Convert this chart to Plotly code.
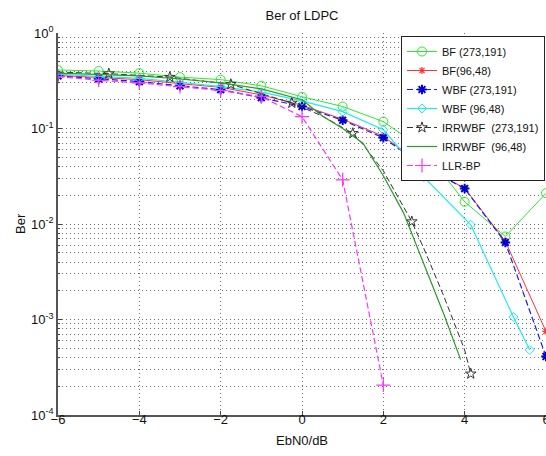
import plotly.graph_objects as go

# ---------------- data ----------------
ebn0 = [-6, -5, -4, -3, -2, -1, 0, 1, 2, 3, 4, 5, 6]
bf_273 = [0.41, 0.40, 0.38, 0.345, 0.325, 0.28, 0.215, 0.17, 0.118, 0.06, 0.0171, 0.0074, 0.021]
bf_96 = [0.36, 0.345, 0.325, 0.295, 0.27, 0.225, 0.175, 0.125, 0.083, 0.04, 0.0237, 0.0066, 0.00075]
wbf_273 = [0.355, 0.33, 0.31, 0.28, 0.255, 0.21, 0.17, 0.122, 0.08, 0.04, 0.0235, 0.0064, 0.00041]

wbf96_x = [-6, -5, -4, -3, -2, -1, 0, 1, 2, 3, 4.15, 5.2, 5.6]
wbf_96 = [0.37, 0.35, 0.335, 0.305, 0.275, 0.24, 0.195, 0.15, 0.097, 0.031, 0.0098, 0.00106, 0.00048]

irr273_x = [-6, -4.75, -3.25, -1.75, -0.25, 0.5, 1.25, 1.5, 2.0, 2.7, 3.0, 3.5, 4.0, 4.15]
irr_273 = [0.39, 0.375, 0.345, 0.29, 0.185, 0.135, 0.089, 0.068, 0.036, 0.0106, 0.0055, 0.0017, 0.00048, 0.00027]
irr273_mark_x = [-4.75, -3.25, -1.75, -0.25, 1.25, 2.7, 4.15]
irr273_mark_y = [0.375, 0.345, 0.29, 0.185, 0.089, 0.0106, 0.00027]

irr96_x = [-6, -5, -4, -3, -2, -1, 0, 0.5, 1, 1.5, 2, 2.5, 3, 3.5, 3.9]
irr_96 = [0.38, 0.37, 0.355, 0.33, 0.30, 0.26, 0.20, 0.135, 0.1, 0.07, 0.032, 0.013, 0.0038, 0.0011, 0.00038]

llr_x = [-6, -5, -4, -3, -2, -1, 0, 1, 2]
llr_bp = [0.35, 0.32, 0.30, 0.275, 0.25, 0.215, 0.133, 0.029, 0.000206]

x_ticks = [-6, -4, -2, 0, 2, 4, 6]
y_ticks = [1e-4, 1e-3, 1e-2, 1e-1, 1]
y_tick_labels = ["10<sup>-4</sup>", "10<sup>-3</sup>", "10<sup>-2</sup>", "10<sup>-1</sup>", "10<sup>0</sup>"]
y_minor = [m * 10 ** e for e in range(-4, 0) for m in range(2, 10)]

FONT = "Liberation Sans, Arial, sans-serif"
TXT = "#111111"

fig = go.Figure()

fig.add_trace(go.Scatter(
    x=ebn0, y=bf_273, name="BF (273,191)", mode="lines+markers",
    line=dict(color="#2ee82e", width=1),
    marker=dict(symbol="circle-open", size=9, color="#2ee82e", line=dict(width=1, color="#2ee82e"))))

fig.add_trace(go.Scatter(
    x=ebn0, y=bf_96, name="BF(96,48)", mode="lines+markers",
    line=dict(color="#ff3030", width=1),
    marker=dict(symbol="asterisk-open", size=6, color="#ff3030", line=dict(width=1.2, color="#ff3030"))))

fig.add_trace(go.Scatter(
    x=ebn0, y=wbf_273, name="WBF (273,191)", mode="lines+markers",
    line=dict(color="#1a1aff", width=1.2, dash="6px,3px"),
    marker=dict(symbol="asterisk-open", size=8, color="#0000cc", line=dict(width=2, color="#0000cc"))))

fig.add_trace(go.Scatter(
    x=wbf96_x, y=wbf_96, name="WBF (96,48)", mode="lines+markers",
    line=dict(color="#22e8f0", width=1.2),
    marker=dict(symbol="diamond-open", size=7, color="#22e8f0", line=dict(width=1, color="#22e8f0"))))

# IRRWBF (273,191): line through all read points, markers only where drawn
fig.add_trace(go.Scatter(
    x=irr273_x, y=irr_273, mode="lines", showlegend=False, legendgroup="irr273",
    line=dict(color="#333333", width=1, dash="6px,3px"), hoverinfo="skip"))
fig.add_trace(go.Scatter(
    x=irr273_mark_x, y=irr273_mark_y, mode="markers", showlegend=False, legendgroup="irr273",
    marker=dict(symbol="star-open", size=8, color="#333333", line=dict(width=1, color="#333333"))))
fig.add_trace(go.Scatter(
    x=[None], y=[None], name="IRRWBF\u00a0 (273,191)", mode="lines+markers", legendgroup="irr273",
    line=dict(color="#333333", width=1.2, dash="6px,3px"),
    marker=dict(symbol="star-open", size=8, color="#333333", line=dict(width=1, color="#333333"))))

fig.add_trace(go.Scatter(
    x=irr96_x, y=irr_96, name="IRRWBF\u00a0 (96,48)", mode="lines",
    line=dict(color="#2a9a2a", width=1.2)))

fig.add_trace(go.Scatter(
    x=llr_x, y=llr_bp, name="LLR-BP", mode="lines+markers",
    line=dict(color="#ff33ff", width=1.2, dash="6px,3px"),
    marker=dict(symbol="cross-thin-open", size=10, color="#ff33ff", line=dict(width=1.2, color="#ff33ff"))))

grid = dict(gridcolor="#707070", gridwidth=1, griddash="1px,3px")

W, H = 546, 456
ML, MT = 58, 33
PW, PH = 488, 382

fig.update_layout(
    width=W, height=H,
    margin=dict(l=ML, r=W - ML - PW, t=MT, b=H - MT - PH, autoexpand=False),
    paper_bgcolor="white", plot_bgcolor="white",
    font=dict(family=FONT, size=12, color=TXT),
    title=dict(text="Ber of LDPC", x=302 / W, xanchor="center", y=1 - 15.5 / H, yanchor="middle",
               font=dict(family=FONT, size=13, color=TXT), automargin=False),
    showlegend=True,
    legend=dict(x=(401 - ML) / PW, y=(MT + PH - 36) / PH, xanchor="left", yanchor="top",
                bgcolor="white", bordercolor="#222", borderwidth=1,
                font=dict(family=FONT, size=11, color=TXT), tracegroupgap=0),
    xaxis=dict(range=[-6, 6], tickvals=x_ticks, ticks="inside", ticklen=4, tickcolor="#444",
               showline=True, linecolor="#555", linewidth=1.5, mirror=False, zeroline=False,
               showgrid=True, **grid, automargin=False, ticklabelstandoff=-8,
               ticklabeloverflow="allow",
               tickfont=dict(family=FONT, size=13, color=TXT)),
    yaxis=dict(type="log", range=[-4, 0], tickvals=y_ticks, ticktext=y_tick_labels,
               ticks="inside", ticklen=4, tickcolor="#444",
               showline=True, linecolor="#555", linewidth=1.5, mirror=False, zeroline=False,
               showgrid=True, **grid, automargin=False,
               minor=dict(tickvals=y_minor, ticks="inside", ticklen=2, tickcolor="#444",
                          showgrid=True, gridcolor="#707070", gridwidth=1, griddash="1px,3px"),
               tickfont=dict(family=FONT, size=13, color=TXT)),
    annotations=[
        dict(text="EbN0/dB", xref="paper", yref="paper", x=0.5, y=-25 / PH, xanchor="center",
             yanchor="middle", showarrow=False, font=dict(family=FONT, size=13, color=TXT)),
        dict(text="Ber", xref="paper", yref="paper", x=-38 / PW, y=0.5, xanchor="center",
             yanchor="middle", textangle=-90, showarrow=False, font=dict(family=FONT, size=13, color=TXT)),
    ],
)

fig.write_html("out.html", config={"displayModeBar": False},
               post_script="document.body.style.margin='0';document.body.style.overflow='hidden';")
